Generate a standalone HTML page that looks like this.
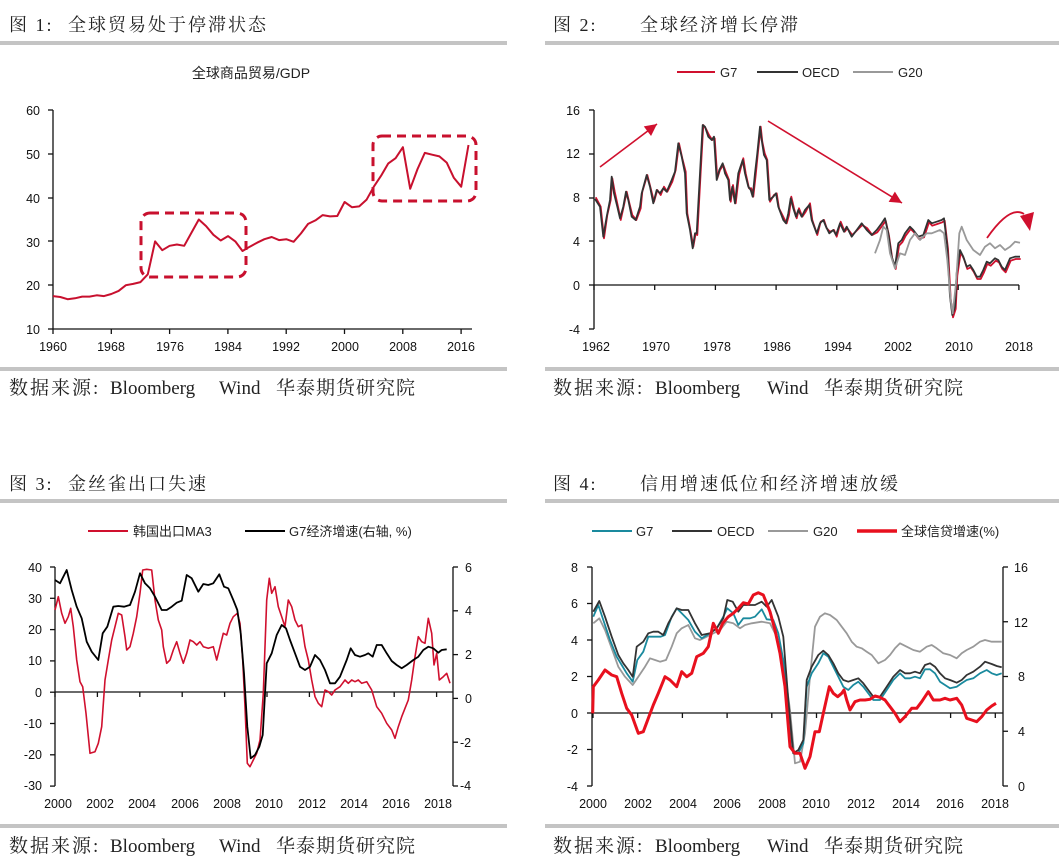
<!DOCTYPE html>
<html><head><meta charset="utf-8"><style>
body{margin:0;background:#fff;}
svg{display:block}
.t{font-family:"Liberation Serif","Noto Serif CJK SC",serif;font-size:18px;fill:#222;letter-spacing:2px}
.s{font-family:"Liberation Serif","Noto Serif CJK SC",serif;font-size:19px;fill:#222}
.k{font-family:"Liberation Sans","Noto Sans CJK SC",sans-serif;font-size:12.5px;fill:#111}
.l{font-family:"Liberation Sans","Noto Sans CJK SC",sans-serif;font-size:13px;fill:#222}
</style></head><body>
<svg id="g" width="1059" height="863" xmlns="http://www.w3.org/2000/svg">
<rect width="1059" height="863" fill="#fff"/>
<rect x="0" y="41" width="507" height="4" fill="#c4c4c4"/>
<rect x="545" y="41" width="514" height="4" fill="#c4c4c4"/>
<rect x="0" y="367" width="507" height="4" fill="#c4c4c4"/>
<rect x="545" y="367" width="514" height="4" fill="#c4c4c4"/>
<rect x="0" y="499" width="507" height="4" fill="#c4c4c4"/>
<rect x="545" y="499" width="514" height="4" fill="#c4c4c4"/>
<rect x="0" y="824" width="507" height="4" fill="#c4c4c4"/>
<rect x="545" y="824" width="514" height="4" fill="#c4c4c4"/>
<text class="t" x="9" y="31">图 1:</text><text class="t" x="68" y="31">全球贸易处于停滞状态</text>
<text class="t" x="553" y="31">图 2:</text><text class="t" x="640" y="31">全球经济增长停滞</text>
<text class="t" x="9" y="490">图 3:</text><text class="t" x="68" y="490">金丝雀出口失速</text>
<text class="t" x="553" y="490">图 4:</text><text class="t" x="640" y="490">信用增速低位和经济增速放缓</text>
<g id="src"></g>

<text class="l" x="251" y="78" text-anchor="middle" style="font-size:14px">全球商品贸易/GDP</text>
<g class="k" text-anchor="end">
<text x="40" y="115">60</text><text x="40" y="159">50</text><text x="40" y="203">40</text><text x="40" y="247">30</text><text x="40" y="290">20</text><text x="40" y="334">10</text>
</g>
<g class="k" text-anchor="middle">
<text x="53" y="351">1960</text><text x="111" y="351">1968</text><text x="170" y="351">1976</text><text x="228" y="351">1984</text><text x="286" y="351">1992</text><text x="345" y="351">2000</text><text x="403" y="351">2008</text><text x="461" y="351">2016</text>
</g>
<rect x="141" y="213" width="105" height="64" rx="9" fill="none" stroke="#c8102e" stroke-width="3" stroke-dasharray="9,6"/>
<rect x="373" y="136" width="103" height="65" rx="9" fill="none" stroke="#c8102e" stroke-width="3" stroke-dasharray="9,6"/>

<line x1="677" y1="72" x2="715" y2="72" stroke="#d0102e" stroke-width="2"/><text class="l" x="720" y="77">G7</text>
<line x1="757" y1="72" x2="798" y2="72" stroke="#333" stroke-width="2"/><text class="l" x="802" y="77">OECD</text>
<line x1="853" y1="72" x2="893" y2="72" stroke="#999" stroke-width="2"/><text class="l" x="898" y="77">G20</text>
<g class="k" text-anchor="end">
<text x="580" y="115">16</text><text x="580" y="158">12</text><text x="580" y="202">8</text><text x="580" y="246">4</text><text x="580" y="290">0</text><text x="580" y="334">-4</text>
</g>
<g class="k" text-anchor="middle">
<text x="596" y="351">1962</text><text x="656" y="351">1970</text><text x="717" y="351">1978</text><text x="777" y="351">1986</text><text x="838" y="351">1994</text><text x="898" y="351">2002</text><text x="959" y="351">2010</text><text x="1019" y="351">2018</text>
</g>

<line x1="88" y1="531" x2="128" y2="531" stroke="#d0102e" stroke-width="2"/><text class="l" x="133" y="536">韩国出口MA3</text>
<line x1="245" y1="531" x2="285" y2="531" stroke="#000" stroke-width="2"/><text class="l" x="289" y="536">G7经济增速(右轴, %)</text>
<g class="k" text-anchor="end">
<text x="42" y="572">40</text><text x="42" y="603">30</text><text x="42" y="634">20</text><text x="42" y="665">10</text><text x="42" y="697">0</text><text x="42" y="728">-10</text><text x="42" y="759">-20</text><text x="42" y="790">-30</text>
</g>
<g class="k">
<text x="465" y="572">6</text><text x="465" y="615">4</text><text x="465" y="659">2</text><text x="465" y="703">0</text><text x="460" y="747">-2</text><text x="460" y="790">-4</text>
</g>
<g class="k" text-anchor="middle">
<text x="58" y="808">2000</text><text x="100" y="808">2002</text><text x="142" y="808">2004</text><text x="185" y="808">2006</text><text x="227" y="808">2008</text><text x="269" y="808">2010</text><text x="312" y="808">2012</text><text x="354" y="808">2014</text><text x="396" y="808">2016</text><text x="438" y="808">2018</text>
</g>

<line x1="592" y1="531" x2="632" y2="531" stroke="#1a8a9e" stroke-width="2"/><text class="l" x="636" y="536">G7</text>
<line x1="672" y1="531" x2="712" y2="531" stroke="#333" stroke-width="2"/><text class="l" x="717" y="536">OECD</text>
<line x1="768" y1="531" x2="808" y2="531" stroke="#999" stroke-width="2"/><text class="l" x="813" y="536">G20</text>
<line x1="857" y1="531" x2="897" y2="531" stroke="#e8101e" stroke-width="3.5"/><text class="l" x="901" y="536">全球信贷增速(%)</text>
<g class="k" text-anchor="end">
<text x="578" y="572">8</text><text x="578" y="608">6</text><text x="578" y="645">4</text><text x="578" y="681">2</text><text x="578" y="718">0</text><text x="578" y="754">-2</text><text x="578" y="791">-4</text>
</g>
<g class="k">
<text x="1014" y="572">16</text><text x="1014" y="627">12</text><text x="1018" y="681">8</text><text x="1018" y="736">4</text><text x="1018" y="791">0</text>
</g>
<g class="k" text-anchor="middle">
<text x="593" y="808">2000</text><text x="638" y="808">2002</text><text x="683" y="808">2004</text><text x="727" y="808">2006</text><text x="772" y="808">2008</text><text x="816" y="808">2010</text><text x="861" y="808">2012</text><text x="906" y="808">2014</text><text x="950" y="808">2016</text><text x="995" y="808">2018</text>
</g>
<!-- sources -->
<text class="s" x="9" y="394" style="letter-spacing:2px">数据来源:</text><text class="s" x="110" y="394">Bloomberg</text><text class="s" x="219" y="394">Wind</text><text class="s" x="276" y="394" style="letter-spacing:1px">华泰期货研究院</text>
<text class="s" x="553" y="394" style="letter-spacing:2px">数据来源:</text><text class="s" x="655" y="394">Bloomberg</text><text class="s" x="767" y="394">Wind</text><text class="s" x="824" y="394" style="letter-spacing:1px">华泰期货研究院</text>
<text class="s" x="9" y="852" style="letter-spacing:2px">数据来源:</text><text class="s" x="110" y="852">Bloomberg</text><text class="s" x="219" y="852">Wind</text><text class="s" x="276" y="852" style="letter-spacing:1px">华泰期货研究院</text>
<text class="s" x="553" y="852" style="letter-spacing:2px">数据来源:</text><text class="s" x="655" y="852">Bloomberg</text><text class="s" x="767" y="852">Wind</text><text class="s" x="824" y="852" style="letter-spacing:1px">华泰期货研究院</text>
<g id="dyn"></g>
</svg>
<script>
var NS="http://www.w3.org/2000/svg",D=document.getElementById("dyn");
function add(tag,at){var e=document.createElementNS(NS,tag);for(var k in at)e.setAttribute(k,at[k]);D.appendChild(e);return e;}
function Z(a,ox,oy,dy){var s="";for(var i=0;i<a.length;i++){s+=(i?"L":"M")+(ox+a[i][0]/3).toFixed(1)+","+(oy+a[i][1]/3+(dy||0)).toFixed(1);}return s;}
function line(x1,y1,x2,y2,c,w){add("line",{x1:x1,y1:y1,x2:x2,y2:y2,stroke:c||"#111","stroke-width":w||1.3});}
function path(d,c,w){add("path",{d:d,fill:"none",stroke:c,"stroke-width":w,"stroke-linejoin":"round"});}
line(53,110,53,329);line(53,329,472,329);
[110,154,198,241,285,329].forEach(function(y){line(48,y,53,y);});
for(var i=0;i<8;i++){var x=53+i*58.3;line(x,329,x,334);}
var c1=[17.5,17.3,16.8,17,17.4,17.4,17.7,17.5,18,18.7,20,20.3,20.7,22.5,30,28,29,29.3,29,32,35,33.5,31.5,30.2,31.2,30,27.8,28.8,29.7,30.5,31,30.3,30.5,29.9,31.8,34,34.8,36,35.7,35.8,39,37.8,38,39.5,42.5,45,47.8,49,51.5,42,46.5,50.2,49.8,49.4,48,44.5,42.5,52];
var d="";c1.forEach(function(v,i){d+=(i?"L":"M")+(53+i*7.29).toFixed(1)+","+(329-(v-10)*4.38).toFixed(1);});
path(d,"#c8102e",2);
line(594,110,594,329);line(594,285,1019,285);
[110,154,198,241,285,329].forEach(function(y){line(589,y,594,y);});
for(var i=0;i<8;i++){var x=594+i*60.7;line(x,285,x,290);}
var oe=[[165,597],[180,620],[190,710],[200,650],[210,600],[215,530],[222,580],[232,620],[240,655],[250,620],[258,575],[265,600],[275,650],[287,660],[300,620],[305,580],[320,525],[330,560],[340,610],[350,570],[360,580],[370,565],[380,575],[395,540],[405,515],[415,430],[425,470],[435,520],[440,640],[450,690],[458,745],[465,700],[470,700],[480,520],[488,375],[495,380],[505,410],[515,420],[522,410],[530,540],[538,510],[548,490],[555,520],[565,540],[570,600],[577,560],[585,610],[595,520],[608,480],[615,520],[625,560],[632,570],[638,590],[645,520],[652,460],[660,380],[665,420],[672,465],[680,480],[688,600],[700,590],[708,580],[715,620],[730,660],[738,670],[745,640],[752,595],[760,625],[768,650],[775,630],[785,650],[795,630],[808,615],[815,660],[830,700],[840,670],[850,660],[858,680],[868,700],[880,690],[888,705],[900,670],[912,695],[920,680],[935,710],[950,690],[965,670],[980,690],[995,705],[1010,690],[1025,670],[1035,655],[1045,700],[1055,770],[1065,800],[1075,730],[1085,720],[1095,700],[1110,680],[1120,690],[1135,710],[1150,705],[1165,660],[1175,670],[1190,665],[1205,660],[1212,655],[1222,740],[1230,890],[1237,945],[1245,920],[1250,820],[1260,750],[1270,770],[1280,800],[1290,795],[1300,810],[1310,830],[1320,830],[1330,810],[1340,785],[1350,790],[1365,775],[1375,780],[1385,800],[1395,810],[1410,775],[1425,770],[1440,770]];
var g7=oe.map(function(p,i){return [p[0]+2,p[1]+(p[0]>1000?7:(i%3-1)*5)];});
var g20=[[1005,760],[1020,720],[1030,680],[1040,690],[1050,760],[1065,805],[1080,760],[1095,765],[1110,720],[1125,700],[1140,720],[1160,700],[1175,700],[1200,690],[1212,700],[1222,780],[1232,900],[1238,940],[1248,850],[1258,700],[1265,680],[1280,720],[1300,750],[1320,765],[1335,740],[1350,730],[1365,745],[1380,735],[1395,750],[1410,740],[1425,725],[1440,728]];
path(Z(g7,540,0),"#d0102e",1.8);
path(Z(oe,540,0),"#333",1.8);
path(Z(g20,540,0),"#999",1.8);
function arrow(x1,y1,x2,y2){line(x1,y1,x2,y2,"#d0102e",1.6);var a=Math.atan2(y2-y1,x2-x1),L=12,W=6;
add("polygon",{points:(x2)+","+(y2)+" "+(x2-L*Math.cos(a)+W*Math.sin(a))+","+(y2-L*Math.sin(a)-W*Math.cos(a))+" "+(x2-L*Math.cos(a)-W*Math.sin(a))+","+(y2-L*Math.sin(a)+W*Math.cos(a)),fill:"#d0102e"});}
arrow(600,167,657,124);arrow(768,121,902,203);
path("M987,238 Q1010,205 1024,214",'#d0102e',1.8);
add("polygon",{points:"1030,231 1020,216 1034,212",fill:"#d0102e"});
line(55,567,55,786);line(453,567,453,786);line(55,692,453,692);
for(var i=0;i<8;i++){var y=567+i*31.3;line(50,y,55,y);}
for(var i=0;i<6;i++){var y=567+i*43.8;line(453,y,458,y);}
for(var i=0;i<10;i++){var x=55+i*42.4;line(x,692,x,697);}
var r3=[[165,450],[175,410],[185,460],[195,490],[205,470],[212,445],[220,500],[230,600],[240,665],[248,680],[258,760],[270,880],[285,875],[295,850],[305,800],[315,660],[325,600],[335,540],[345,500],[355,460],[365,465],[375,530],[380,570],[390,560],[400,520],[410,470],[420,400],[428,330],[440,328],[455,330],[465,420],[475,480],[485,510],[490,560],[500,610],[510,600],[520,570],[530,545],[540,580],[550,610],[560,580],[570,540],[580,545],[590,555],[600,545],[610,560],[625,565],[640,560],[650,600],[660,560],[670,520],[680,525],[690,490],[700,470],[712,460],[720,490],[728,600],[735,740],[742,910],[750,920],[760,900],[770,880],[780,840],[790,700],[800,420],[808,355],[815,400],[825,380],[835,440],[845,470],[855,500],[865,420],[875,440],[885,480],[895,500],[905,495],[915,560],[925,600],[935,660],[945,710],[955,730],[965,740],[975,690],[985,695],[995,705],[1005,690],[1020,680],[1035,660],[1045,670],[1055,660],[1065,665],[1075,660],[1085,670],[1100,665],[1115,690],[1130,740],[1145,760],[1160,790],[1175,810],[1185,835],[1195,800],[1205,770],[1215,745],[1225,720],[1235,660],[1245,590],[1255,530],[1265,545],[1275,550],[1285,475],[1295,520],[1302,615],[1310,580],[1318,660],[1330,650],[1340,640],[1350,670]];
var b3=[[165,360],[180,370],[200,330],[215,390],[230,440],[245,475],[260,545],[275,575],[295,600],[308,520],[322,500],[340,440],[355,438],[372,440],[390,435],[405,395],[420,340],[435,370],[450,385],[465,410],[485,450],[500,450],[515,440],[530,428],[545,422],[560,345],[575,355],[595,395],[610,372],[625,375],[640,370],[658,343],[672,380],[685,385],[700,420],[712,450],[722,520],[732,640],[742,800],[752,895],[765,885],[778,860],[788,825],[800,610],[815,580],[830,525],[845,495],[858,505],[870,540],[885,580],[900,620],[915,630],[930,620],[945,585],[960,600],[975,630],[990,670],[1005,670],[1020,650],[1040,600],[1052,565],[1065,585],[1080,590],[1095,585],[1105,580],[1118,590],[1130,555],[1145,555],[1160,580],[1175,603],[1190,615],[1205,625],[1220,615],[1240,600],[1255,590],[1270,570],[1285,560],[1300,565],[1315,578],[1325,570],[1340,568]];
path(Z(r3,0,460),"#d0102e",1.6);
path(Z(b3,0,460),"#000",1.8);
line(592,567,592,786);line(1003,567,1003,786);line(592,713,1003,713);
for(var i=0;i<7;i++){var y=567+i*36.5;line(587,y,592,y);}
for(var i=0;i<5;i++){var y=567+i*54.75;line(1003,y,1008,y);}
for(var i=0;i<10;i++){var x=593+i*44.7;line(x,713,x,718);}
var t4=[[160,470],[175,435],[190,480],[210,540],[230,590],[245,615],[260,640],[278,665],[292,600],[310,575],[325,530],[345,530],[362,530],[375,525],[395,470],[410,445],[425,460],[445,480],[465,515],[485,535],[510,520],[530,505],[550,470],[562,445],[580,460],[595,495],[610,475],[630,475],[645,470],[665,448],[680,478],[700,480],[715,520],[730,600],[745,760],[760,880],[775,880],[790,850],[800,680],[815,640],[835,610],[850,580],[865,590],[880,620],[895,650],[910,680],[925,690],[940,675],[955,665],[970,680],[985,700],[1000,720],[1020,720],[1040,690],[1060,660],[1080,640],[1095,655],[1110,655],[1125,650],[1140,655],[1155,628],[1170,628],[1185,640],[1200,665],[1215,675],[1230,685],[1250,680],[1265,670],[1280,660],[1300,655],[1320,640],[1340,630],[1355,640],[1370,645],[1385,640]];
var o4=[[160,455],[178,423],[195,470],[215,530],[235,585],[250,610],[265,630],[278,650],[290,560],[310,545],[325,520],[340,515],[355,515],[370,525],[385,490],[410,445],[425,450],[445,450],[465,490],[485,525],[510,520],[530,505],[550,475],[562,420],[578,425],[595,455],[610,435],[630,435],[645,435],[665,425],[680,440],[695,420],[715,470],[730,530],[745,720],[760,880],[775,870],[790,840],[800,660],[815,620],[835,585],[850,572],[865,585],[880,610],[895,640],[910,660],[925,665],[940,660],[955,655],[970,670],[985,690],[1000,710],[1020,710],[1040,680],[1060,650],[1080,630],[1095,640],[1110,640],[1125,635],[1140,640],[1155,615],[1170,610],[1185,620],[1200,640],[1215,655],[1230,660],[1250,668],[1265,660],[1280,645],[1300,635],[1320,620],[1335,605],[1355,612],[1370,618],[1385,622]];
var g4=[[160,490],[178,475],[195,510],[215,565],[235,620],[255,650],[278,675],[295,650],[315,620],[330,595],[345,600],[360,605],[378,600],[395,560],[410,520],[425,505],[445,495],[465,535],[480,540],[500,530],[520,520],[540,510],[560,485],[580,490],[600,505],[615,495],[635,490],[665,485],[690,490],[710,530],[730,600],[750,750],[765,910],[780,905],[795,820],[810,650],[825,500],[840,470],[855,460],[870,465],[890,480],[905,500],[920,520],[935,545],[950,560],[965,565],[980,575],[995,585],[1015,610],[1035,600],[1050,585],[1065,565],[1080,550],[1100,560],[1120,570],[1140,575],[1160,560],[1175,555],[1190,565],[1210,580],[1230,585],[1250,595],[1265,580],[1280,570],[1300,560],[1320,545],[1335,540],[1355,545],[1385,545]];
var r4=[[158,760],[160,680],[175,660],[195,630],[215,645],[230,650],[245,700],[260,745],[275,765],[295,820],[310,815],[325,775],[340,735],[355,700],[375,650],[390,660],[410,680],[425,635],[440,650],[455,640],[470,590],[490,580],[505,560],[520,490],[535,520],[548,490],[565,470],[580,460],[595,445],[610,428],[625,432],[640,405],[655,398],[670,405],[690,455],[705,510],[720,580],[735,680],[750,860],[765,880],[780,880],[795,925],[810,890],[825,815],[838,815],[850,760],[868,680],[880,700],[893,710],[905,700],[912,690],[920,720],[930,750],[945,725],[960,720],[975,720],[990,718],[1005,708],[1020,712],[1035,720],[1050,740],[1065,760],[1080,785],[1095,770],[1115,745],[1130,745],[1145,725],[1165,695],[1180,720],[1200,720],[1215,715],[1230,720],[1250,715],[1265,735],[1280,775],[1295,780],[1310,785],[1325,770],[1340,750],[1355,738],[1368,730]];
path(Z(g4,540,460),"#999",1.8);
path(Z(t4,540,460),"#1a8a9e",1.8);
path(Z(o4,540,460),"#333",1.8);
path(Z(r4,540,460),"#e8101e",3);
</script>
</body></html>
